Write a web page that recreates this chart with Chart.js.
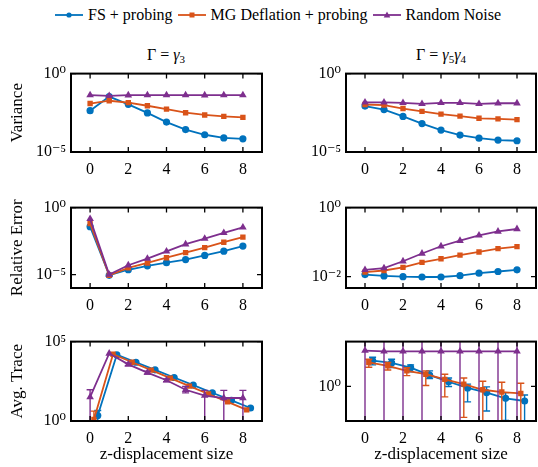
<!DOCTYPE html>
<html>
<head>
<meta charset="utf-8">
<script src="https://cdn.jsdelivr.net/npm/chart.js@4.4.0/dist/chart.umd.min.js"></script>
<style>
  body { margin: 0; width: 538px; height: 467px; background: #fff; position: relative; overflow: hidden; font-family: "Liberation Serif", "DejaVu Serif", serif; color: #000; }
  canvas { position: absolute; }
  .title { position: absolute; font-size: 16px; line-height: 20px; transform: translateX(-50%); white-space: nowrap; }
  .title sub { font-size: 11px; vertical-align: -3px; line-height: 0; }
  #legend { position: absolute; left: 55px; top: 5px; display: flex; align-items: center; font-size: 16px; line-height: 20px; white-space: nowrap; }
  #legend .item { display: flex; align-items: center; margin-right: 5px; }
  #legend svg { margin-right: 5px; }
</style>
</head>
<body>
<div id="legend"></div>
<div class="title" style="left:166px; top:45px;">Γ = <i>γ</i><sub>3</sub></div>
<div class="title" style="left:441px; top:45px;">Γ = <i>γ</i><sub>5</sub><i>γ</i><sub>4</sub></div>
<canvas id="c11"></canvas>
<canvas id="c12"></canvas>
<canvas id="c21"></canvas>
<canvas id="c22"></canvas>
<canvas id="c31"></canvas>
<canvas id="c32"></canvas>
<script>
const xs = [0, 1, 2, 3, 4, 5, 6, 7, 8];
const xTicks = [0, 2, 4, 6, 8];
const names = ['FS + probing', 'MG Deflation + probing', 'Random Noise'];
const colors = ['#0072BD', '#D95319', '#7E2F8E'];
const markers = ['circle', 'rect', 'triangle'];
const radii = [3.6, 3.8, 4.4];

// shift of the x positions in the trace panels
const shiftFS = 0.4;
const shiftMG = 0.2;

// Variance
const varG3FS = [4.3e-3, 3.4e-2, 1.1e-2, 3.1e-3, 8.1e-4, 2.7e-4, 1.26e-4, 7.9e-5, 6.9e-5];
const varG3MG = [1.23e-2, 1.86e-2, 1.41e-2, 8.9e-3, 5.4e-3, 3.2e-3, 2.3e-3, 1.86e-3, 1.62e-3];
const varG3RN = [4.3e-2, 3.8e-2, 4.2e-2, 4.3e-2, 4.3e-2, 4.3e-2, 4.2e-2, 4.3e-2, 4.3e-2];
const varG54FS = [8.5e-3, 5.1e-3, 1.86e-3, 6.5e-4, 2.5e-4, 1.2e-4, 7.6e-5, 5.8e-5, 5.2e-5];
const varG54MG = [1.07e-2, 9.8e-3, 5.9e-3, 3.9e-3, 2.6e-3, 1.95e-3, 1.41e-3, 1.29e-3, 1.17e-3];
const varG54RN = [1.48e-2, 1.48e-2, 1.35e-2, 1.18e-2, 1.35e-2, 1.35e-2, 1.18e-2, 1.29e-2, 1.29e-2];

// Relative error
const errG3FS = [3.8e-2, 8.9e-6, 2.3e-5, 4.5e-5, 7.8e-5, 1.32e-4, 2.7e-4, 5.6e-4, 1.35e-3];
const errG3MG = [6.5e-2, 8.9e-6, 3.2e-5, 7.4e-5, 1.82e-4, 4.4e-4, 1.02e-3, 2.6e-3, 6.3e-3];
const errG3RN = [0.145, 1.0e-5, 5.0e-5, 1.58e-4, 5.4e-4, 1.86e-3, 4.9e-3, 1.29e-2, 3.4e-2];
const errG54FS = [1.15e-2, 1.05e-2, 1.0e-2, 9.8e-3, 9.8e-3, 1.07e-2, 1.26e-2, 1.41e-2, 1.58e-2];
const errG54MG = [1.35e-2, 1.51e-2, 1.86e-2, 2.6e-2, 3.3e-2, 4.2e-2, 5.2e-2, 6.5e-2, 7.4e-2];
const errG54RN = [1.58e-2, 1.78e-2, 2.8e-2, 4.7e-2, 7.6e-2, 0.11, 0.158, 0.204, 0.24];

// Avg. trace, with error bar ends
const trG3FS = [2.2, 1.48e4, 5.0e3, 1.66e3, 550, 182, 60, 20, 6.6];
const trG3FSlo = [0.1, null, null, null, null, null, null, null, null];
const trG3FShi = [4.6, null, null, null, null, null, null, null, null];
const trG3MG = [1.26, 1.6e4, 5.0e3, 1.6e3, 500, 158, 50, 16, 5.0];
const trG3MGlo = [0.1, null, null, null, null, null, null, null, null];
const trG3MGhi = [4.2, null, null, null, null, null, null, null, null];
const trG3RN = [32, 1.8e4, 3.7e3, 1.12e3, 370, 93, 40, 28, 28];
const trG3RNlo = [0.1, null, 3.0e3, 900, 300, 59, 0.1, 0.1, 0.1];
const trG3RNhi = [93, null, 4.4e3, 1.35e3, 440, 148, 85, 85, 85];

const trG54FS = [3.55, 3.16, 2.51, 1.74, 1.26, 0.93, 0.74, 0.56, 0.49];
const trG54FSlo = [2.88, 2.51, 2.04, 1.48, 1.0, 0.47, 0.3, 0.19, 0.05];
const trG54FShi = [4.17, 3.8, 2.88, 2.14, 1.51, 1.12, 0.98, 0.74, 0.66];
const trG54MG = [3.24, 2.75, 2.14, 1.82, 1.41, 1.12, 0.85, 0.76, 0.71];
const trG54MGlo = [2.57, 2.24, 1.7, 1.05, 0.6, 0.22, 0.05, 0.05, 0.05];
const trG54MGhi = [3.8, 3.24, 2.5, 2.14, 1.82, 1.51, 1.29, 1.23, 1.17];
const trG54RN = [5.8, 5.6, 5.6, 5.6, 5.6, 5.6, 5.6, 5.6, 5.6];
const trG54RNlo = [0.01, 0.01, 0.01, 0.01, 0.01, 0.01, 0.01, 0.01, 0.01];
const trG54RNhi = [100, 100, 100, 100, 100, 100, 100, 100, 100];

Chart.defaults.font.family = "'Liberation Serif', 'DejaVu Serif', serif";
Chart.defaults.color = '#000';

const SUP = { '-': '⁻', '0': '⁰', '1': '¹', '2': '²', '3': '³', '4': '⁴', '5': '⁵', '6': '⁶', '7': '⁷', '8': '⁸', '9': '⁹' };
function powLabel(v) {
    const e = String(Math.round(Math.log10(v)));
    return '10' + e.split('').map(c => SUP[c]).join('');
}

// legend
const legend = document.getElementById('legend');
names.forEach((n, i) => {
    let mark = '';
    if (markers[i] === 'circle') mark = `<circle cx="14" cy="6" r="2.6" fill="${colors[i]}"/>`;
    if (markers[i] === 'rect') mark = `<rect x="11.5" y="3.5" width="5" height="5" fill="${colors[i]}"/>`;
    if (markers[i] === 'triangle') mark = `<polygon points="14,2.5 17.3,8.5 10.7,8.5" fill="${colors[i]}"/>`;
    const item = document.createElement('span');
    item.className = 'item';
    item.innerHTML = `<svg width="28" height="12"><line x1="0" y1="6" x2="28" y2="6" stroke="${colors[i]}" stroke-width="1.8"/>${mark}</svg>${n}`;
    legend.appendChild(item);
});

// box + inward ticks like the original
const framePlugin = {
    id: 'frame',
    afterDraw(chart) {
        const { ctx, chartArea: a, scales } = chart;
        ctx.save();
        ctx.strokeStyle = '#000';
        ctx.lineWidth = 1.3;
        ctx.beginPath();
        scales.x.ticks.forEach(t => {
            const px = scales.x.getPixelForValue(t.value);
            ctx.moveTo(px, a.top); ctx.lineTo(px, a.top + 5);
            ctx.moveTo(px, a.bottom); ctx.lineTo(px, a.bottom - 5);
        });
        scales.y.ticks.forEach(t => {
            const py = scales.y.getPixelForValue(t.value);
            ctx.moveTo(a.left, py); ctx.lineTo(a.left + 5, py);
            ctx.moveTo(a.right, py); ctx.lineTo(a.right - 5, py);
        });
        ctx.stroke();
        ctx.lineWidth = 2;
        ctx.strokeRect(a.left, a.top, a.right - a.left, a.bottom - a.top);
        ctx.restore();
    }
};

const errorBarPlugin = {
    id: 'errbars',
    beforeDatasetDraw(chart, args) {
        const ds = chart.data.datasets[args.index];
        if (!ds.errLo) return;
        const { ctx, chartArea: a, scales: { x, y } } = chart;
        ctx.save();
        ctx.beginPath();
        ctx.rect(a.left, a.top, a.right - a.left, a.bottom - a.top);
        ctx.clip();
        ctx.strokeStyle = ds.borderColor;
        ctx.lineWidth = 1.4;
        ctx.beginPath();
        ds.data.forEach((p, k) => {
            const lo = ds.errLo[k], hi = ds.errHi[k];
            if (lo == null || hi == null) return;
            const px = x.getPixelForValue(p.x);
            const yl = y.getPixelForValue(lo), yh = y.getPixelForValue(hi);
            ctx.moveTo(px, yl); ctx.lineTo(px, yh);
            ctx.moveTo(px - 3.5, yl); ctx.lineTo(px + 3.5, yl);
            ctx.moveTo(px - 3.5, yh); ctx.lineTo(px + 3.5, yh);
        });
        ctx.stroke();
        ctx.restore();
    }
};

function makePanel(p) {
    const padL = 70, padT = 10, padR = 6;
    const padB = p.xTitle ? 46 : 26;
    const [x0, y0, x1, y1] = p.box;
    const cv = document.getElementById(p.id);
    const w = x1 - x0 + padL + padR, h = y1 - y0 + padT + padB;
    cv.width = w; cv.height = h;
    cv.style.width = w + 'px'; cv.style.height = h + 'px';
    cv.style.left = (x0 - padL) + 'px';
    cv.style.top = (y0 - padT) + 'px';

    const datasets = p.series.map((s, i) => ({
        label: names[i],
        data: s.y.map((v, k) => ({ x: xs[k] + (s.dx || 0), y: v })),
        borderColor: colors[i],
        backgroundColor: colors[i],
        pointStyle: markers[i],
        pointRadius: radii[i],
        pointBorderWidth: 0,
        borderWidth: 1.8,
        tension: 0,
        order: 2 - i,
        errLo: s.lo,
        errHi: s.hi
    }));

    new Chart(cv, {
        type: 'line',
        data: { datasets },
        options: {
            responsive: false,
            animation: false,
            events: [],
            layout: { padding: { top: padT, right: padR, left: 0, bottom: 0 } },
            plugins: { legend: { display: false }, tooltip: { enabled: false } },
            scales: {
                x: {
                    type: 'linear', min: -1, max: 9,
                    afterFit: s => { s.height = padB; },
                    afterBuildTicks: s => { s.ticks = xTicks.map(v => ({ value: v })); },
                    grid: { display: false, drawTicks: false },
                    border: { display: false },
                    ticks: { color: '#000', padding: 8, maxRotation: 0, font: { size: 16 } },
                    title: {
                        display: !!p.xTitle, text: p.xTitle || '', color: '#000',
                        padding: { top: 0, bottom: 2 },
                        font: { size: 17 }
                    }
                },
                y: {
                    type: 'logarithmic', min: p.yMin, max: p.yMax,
                    afterFit: s => { s.width = padL; },
                    afterBuildTicks: s => { s.ticks = p.yTicks.map(v => ({ value: v })); },
                    grid: { display: false, drawTicks: false },
                    border: { display: false },
                    ticks: { color: '#000', padding: 5, callback: v => powLabel(v), font: { size: 16 } },
                    title: {
                        display: !!p.yTitle, text: p.yTitle || '', color: '#000',
                        padding: { top: 6, bottom: 0 },
                        font: { size: 17 }
                    }
                }
            }
        },
        plugins: [errorBarPlugin, framePlugin]
    });
}

const panels = [
    { id: 'c11', box: [71, 69, 262, 152], yMin: 1e-5, yMax: 1, yTicks: [1e-5, 1], yTitle: 'Variance',
      series: [{ y: varG3FS }, { y: varG3MG }, { y: varG3RN }] },
    { id: 'c12', box: [346, 69, 536, 152], yMin: 1e-5, yMax: 1, yTicks: [1e-5, 1],
      series: [{ y: varG54FS }, { y: varG54MG }, { y: varG54RN }] },
    { id: 'c21', box: [71, 203, 262, 288], yMin: 1e-6, yMax: 1, yTicks: [1e-5, 1], yTitle: 'Relative Error',
      series: [{ y: errG3FS }, { y: errG3MG }, { y: errG3RN }] },
    { id: 'c22', box: [346, 203, 536, 288], yMin: 4.7e-3, yMax: 1, yTicks: [1e-2, 1],
      series: [{ y: errG54FS }, { y: errG54MG }, { y: errG54RN }] },
    { id: 'c31', box: [71, 337, 262, 421], yMin: 1, yMax: 1e5, yTicks: [1, 1e5], yTitle: 'Avg. Trace', xTitle: 'z-displacement size',
      series: [
        { y: trG3FS, lo: trG3FSlo, hi: trG3FShi, dx: shiftFS },
        { y: trG3MG, lo: trG3MGlo, hi: trG3MGhi, dx: shiftMG },
        { y: trG3RN, lo: trG3RNlo, hi: trG3RNhi }
      ] },
    { id: 'c32', box: [346, 337, 536, 421], yMin: 0.184, yMax: 9, yTicks: [1], xTitle: 'z-displacement size',
      series: [
        { y: trG54FS, lo: trG54FSlo, hi: trG54FShi, dx: shiftFS },
        { y: trG54MG, lo: trG54MGlo, hi: trG54MGhi, dx: shiftMG },
        { y: trG54RN, lo: trG54RNlo, hi: trG54RNhi }
      ] }
];

panels.forEach(makePanel);
</script>
</body>
</html>
